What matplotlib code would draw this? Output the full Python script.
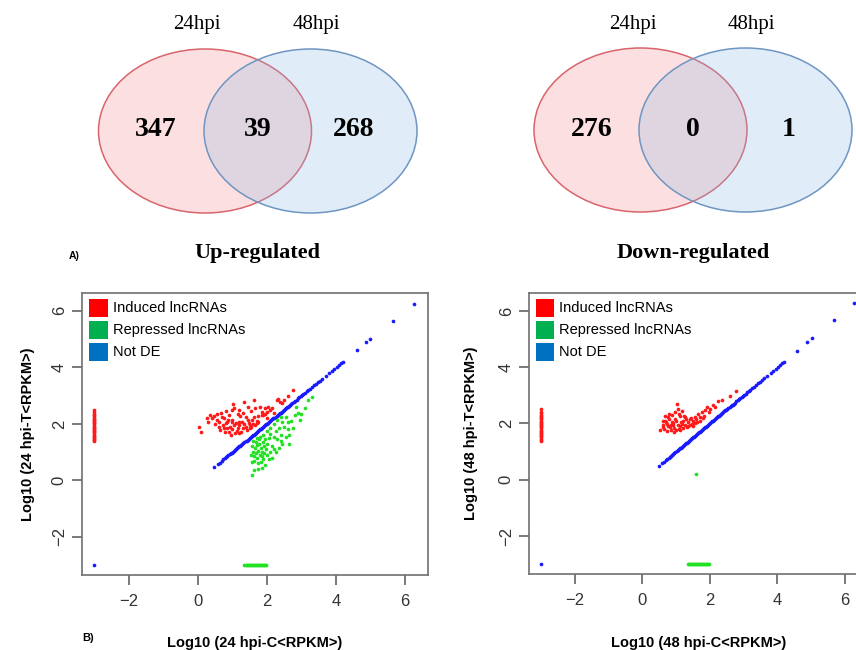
"""Venn counts of up/down-regulated lncRNAs plus T vs C expression scatter (24 / 48 hpi)."""

import matplotlib

matplotlib.use("Agg")
import matplotlib.pyplot as plt
from matplotlib.patches import Ellipse, Rectangle

# ---- Venn counts ----
VENN_SETS = ["24hpi", "48hpi"]
UP_COUNTS = [347, 39, 268]      # only 24, both, only 48
DOWN_COUNTS = [276, 0, 1]

# ---- scatter: 24 hpi ----
RED24_X = [0.03, 0.10, 0.30, 0.35, 0.46, 0.56, 0.60, 0.68, 0.75, 0.80, 0.84, 0.89, 0.99, 1.02,
           1.06, 1.10, 1.16, 1.18, 1.23, 1.27, 1.35, 1.39, 1.45, 1.48, 1.51, 1.56, 1.62, 1.66,
           1.70, 1.75, 1.80, 1.85, 1.90, 1.94, 1.99, 2.04, 2.09, 2.14, 2.28, 2.33, 2.38, 2.60,
           2.76, 0.65, 0.72, 0.78, 0.85, 0.92, 0.95, 1.00, 1.05, 1.12, 1.20, 1.25, 1.30, 1.35,
           1.42, 1.50, 1.55, 1.60, 1.65, 1.70, 1.75, 0.50, 0.40, 0.55, 0.70, 0.90, 1.15, 1.30,
           0.80, 1.00, 1.20, 1.55, 1.85, 1.95, 2.00, 2.20, 2.45, 2.50, 0.25, 0.62, 0.98, 1.08,
           1.38, 1.62, 0.88, 0.75, 1.18, 1.45]
RED24_Y = [1.90, 1.72, 2.08, 2.32, 2.26, 2.14, 1.90, 2.40, 2.19, 2.02, 1.84, 1.72, 2.14, 2.70,
           2.55, 2.02, 1.84, 1.66, 2.26, 2.08, 2.79, 1.90, 2.61, 2.02, 1.84, 2.14, 2.83, 2.55,
           2.02, 2.26, 2.61, 2.43, 2.31, 2.55, 2.43, 2.61, 2.49, 2.55, 2.85, 2.87, 2.79, 2.99,
           3.20, 1.78, 1.95, 1.70, 2.05, 1.88, 1.62, 1.80, 1.95, 1.75, 1.95, 1.70, 1.85, 2.00,
           1.78, 1.95, 1.90, 2.00, 1.95, 2.10, 2.05, 2.00, 2.20, 2.35, 2.25, 2.30, 2.35, 2.40,
           2.45, 2.50, 2.50, 2.45, 2.30, 2.35, 2.20, 2.40, 2.75, 2.85, 2.20, 2.05, 2.05, 1.68,
           2.25, 2.25, 2.15, 1.85, 2.08, 2.15]
GREEN24_X = [1.60, 1.62, 1.65, 1.68, 1.70, 1.72, 1.75, 1.78, 1.80, 1.82, 1.85, 1.88, 1.90, 1.92,
             1.95, 1.58, 1.63, 1.67, 1.73, 1.77, 1.83, 1.87, 1.93, 1.98, 2.00, 1.60, 1.70, 1.80,
             1.55, 1.57, 1.62, 1.58, 1.75, 1.85, 1.95, 2.05, 2.10, 2.15, 2.05, 2.10, 2.20, 2.25,
             2.30, 2.35, 2.40, 2.45, 2.50, 2.55, 2.60, 2.65, 2.70, 2.75, 2.80, 2.90, 2.95, 3.00,
             3.10, 3.20, 3.30, 2.20, 2.30, 2.40, 2.55, 2.65, 2.00, 2.25, 2.15, 1.90, 2.00, 2.10,
             2.20, 2.35, 2.45, 2.60, 2.85, 2.40]
GREEN24_Y = [1.00, 0.85, 1.15, 0.95, 1.25, 0.80, 1.05, 1.30, 0.90, 1.15, 1.00, 1.35, 0.75, 1.20,
             1.45, 1.20, 0.70, 1.35, 0.60, 1.45, 0.65, 0.85, 0.95, 1.10, 1.30, 1.40, 1.50, 1.55,
             0.90, 0.65, 0.35, 0.18, 0.40, 0.45, 0.55, 0.75, 1.00, 1.20, 1.50, 1.65, 1.55, 1.75,
             1.45, 1.85, 1.60, 1.30, 1.90, 1.55, 2.05, 1.60, 2.10, 1.85, 2.30, 2.40, 2.15, 2.35,
             2.55, 2.85, 2.95, 2.00, 2.15, 2.25, 2.25, 1.30, 0.90, 1.00, 0.80, 1.60, 1.75, 1.85,
             1.10, 1.15, 2.05, 1.80, 2.60, 1.40]

# ---- scatter: 48 hpi ----
RED48_X = [0.52, 0.62, 0.67, 0.72, 0.77, 0.82, 0.87, 0.92, 0.97, 1.02, 1.04, 1.07, 1.12, 1.17,
           1.21, 1.26, 1.31, 1.36, 1.41, 1.46, 1.51, 1.56, 1.61, 1.66, 1.71, 1.76, 1.81, 1.86,
           1.91, 1.96, 2.00, 2.08, 2.15, 2.25, 2.35, 2.60, 2.78, 0.60, 0.65, 0.70, 0.75, 0.80,
           0.85, 0.90, 0.95, 1.00, 1.05, 1.10, 1.15, 1.20, 1.25, 1.30, 1.35, 1.40, 1.45, 1.50,
           1.55, 0.68, 0.78, 0.88, 0.98, 1.08, 1.18, 0.72, 0.93, 1.00, 1.12, 1.22, 1.60, 1.70,
           1.80, 0.85, 0.62]
RED48_Y = [1.75, 1.87, 2.10, 1.99, 2.22, 1.87, 2.04, 1.93, 2.16, 2.70, 2.52, 1.81, 2.28, 1.99,
           2.10, 2.22, 1.87, 2.04, 2.16, 1.99, 2.10, 2.22, 2.04, 2.34, 2.22, 2.40, 2.28, 2.46,
           2.58, 2.40, 2.52, 2.64, 2.58, 2.81, 2.84, 2.99, 3.17, 1.95, 1.80, 2.05, 1.90, 2.15,
           1.75, 2.00, 1.85, 2.10, 1.95, 1.75, 2.05, 1.85, 1.95, 2.15, 1.90, 1.95, 2.20, 1.90,
           2.00, 2.25, 2.35, 2.30, 2.40, 2.35, 2.45, 1.72, 1.68, 1.78, 1.90, 2.25, 2.15, 2.10,
           2.20, 1.95, 2.10]
GREEN48_X = [1.58]
GREEN48_Y = [0.19]

# not-DE genes sit on the diagonal (T == C)
NOTDE_CORE = [0.48, 0.58, 0.63, 0.70, 0.74, 0.78, 0.81, 0.85, 0.88, 0.92, 0.95, 0.98, 1.02, 1.05,
              1.08, 1.11, 1.14, 1.17, 1.20, 1.23, 1.26, 1.29, 1.32, 1.35, 1.38, 1.41, 1.44, 1.47,
              1.50, 1.53, 1.56, 1.59, 1.62, 1.65, 1.68, 1.71, 1.74, 1.77, 1.80, 1.83, 1.86, 1.89,
              1.92, 1.95, 1.98, 2.01, 2.04, 2.07, 2.10, 2.13, 2.16, 2.19, 2.22, 2.25, 2.28, 2.31,
              2.34, 2.37, 2.40, 2.43, 2.46, 2.49, 2.52, 2.55, 2.58, 2.61, 2.64, 2.67, 2.70, 2.74,
              2.78, 2.82, 2.86, 2.90, 2.94, 2.98, 3.02, 3.06, 3.10, 3.15, 3.20, 3.25, 3.30, 3.36,
              3.42, 3.47, 3.53, 3.60, 3.70, 3.80, 3.88, 3.95, 4.02, 4.08, 4.15, 4.20]
NOTDE_TAIL_24 = [4.60, 4.88, 5.00, 5.65, 6.25]
NOTDE_TAIL_48 = [4.58, 4.88, 5.02, 5.68, 6.28]

# genes absent in control (log10 floor = -3) and absent in treatment
FLOOR = -3
RED_COL_Y = [1.38, 1.42, 1.46, 1.50, 1.54, 1.58, 1.62, 1.66, 1.70, 1.74, 1.78, 1.82, 1.86, 1.90,
             1.94, 1.98, 2.02, 2.06, 2.10, 2.14, 2.18, 2.22, 2.26, 2.30, 2.36, 2.42, 2.50]
GREEN_ROW_X = [1.35, 1.38, 1.41, 1.44, 1.47, 1.50, 1.53, 1.56, 1.59, 1.62, 1.65, 1.68, 1.71, 1.74,
               1.77, 1.80, 1.83, 1.86, 1.89, 1.92, 1.95, 1.98]

LEGEND = [("Induced lncRNAs", "#ff0000"), ("Repressed lncRNAs", "#00b050"), ("Not DE", "#0070c0")]

RED, GREEN, BLUE = "#ff1a1a", "#22e022", "#1a1aff"
SERIF = "Liberation Serif"
SANS = "Liberation Sans"

fig = plt.figure(figsize=(8.56, 6.5), dpi=100)

# overlay in pixel coordinates for venns and panel letters
ov = fig.add_axes([0, 0, 1, 1])
ov.set_xlim(0, 856)
ov.set_ylim(650, 0)
ov.axis("off")


def venn(cx_left, cx_right, cy, counts, title):
    w, h = 213, 164
    ov.add_patch(Ellipse((cx_left, cy), w, h, facecolor=(247 / 255, 135 / 255, 139 / 255, 0.25),
                         edgecolor="#d9646c", lw=1.1))
    ov.add_patch(Ellipse((cx_right, cy), w, h, facecolor=(135 / 255, 183 / 255, 227 / 255, 0.25),
                         edgecolor="#6f95c2", lw=1.1))
    ov.text(cx_left - 8, 25, VENN_SETS[0], ha="center", va="center", fontsize=15, family=SERIF)
    ov.text(cx_right + 6, 25, VENN_SETS[1], ha="center", va="center", fontsize=15, family=SERIF)
    xs = [cx_left - 49, (cx_left + cx_right) / 2, cx_right + 43]
    for x, n in zip(xs, counts):
        ov.text(x, cy - 1, str(n), ha="center", va="center", fontsize=20, family=SERIF,
                weight="bold")
    ov.text((cx_left + cx_right) / 2, 253, title, ha="center", va="center", fontsize=16,
            family=SERIF, weight="bold")


venn(205, 310.5, 131, UP_COUNTS, "Up-regulated")
venn(640.5, 745.5, 130, DOWN_COUNTS, "Down-regulated")
ov.text(69, 256, "A)", ha="left", va="center", fontsize=7.5, family=SANS, weight="bold")
ov.text(82, 638, "B)", ha="left", va="center", fontsize=8, family=SANS, weight="bold")


def scatter_panel(rect, red_x, red_y, green_x, green_y, tail, ylab, xlab, ypad, xpad):
    ax = fig.add_axes(rect)
    ax.set_facecolor("none")
    kw = dict(s=7, linewidths=0, zorder=3)
    notde = NOTDE_CORE + tail
    ax.scatter(notde, notde, color=BLUE, **kw)
    ax.scatter(red_x, red_y, color=RED, **kw)
    ax.scatter(green_x, green_y, color=GREEN, **kw)
    ax.scatter([FLOOR] * len(RED_COL_Y), RED_COL_Y, color=RED, **kw)
    ax.scatter(GREEN_ROW_X, [FLOOR] * len(GREEN_ROW_X), color=GREEN, **kw)
    ax.scatter([FLOOR], [FLOOR], color=BLUE, **kw)
    ax.set_xlim(-3.36, 6.67)
    ax.set_ylim(-3.35, 6.63)
    ax.set_xticks([-2, 0, 2, 4, 6])
    ax.set_yticks([-2, 0, 2, 4, 6])
    for sp in ax.spines.values():
        sp.set_color("#707070")
        sp.set_linewidth(1.2)
    ax.tick_params(direction="out", length=7, width=1.1, color="#555555", labelsize=12,
                   labelcolor="#333333")
    ax.tick_params(axis="x", pad=7)
    ax.tick_params(axis="y", pad=4, labelrotation=90)
    for t in ax.get_yticklabels():
        t.set_va("center")
        t.set_family(SANS)
    for t in ax.get_xticklabels():
        t.set_family(SANS)
    ax.set_ylabel(ylab, fontsize=10.5, weight="bold", family=SANS, labelpad=ypad)
    ax.set_xlabel(xlab, fontsize=10.5, weight="bold", family=SANS, labelpad=xpad)
    # filled colour-square legend
    for i, (lab, col) in enumerate(LEGEND):
        y0 = 6.10 - i * 0.78
        ax.add_patch(Rectangle((-3.16, y0 - 0.32), 0.55, 0.64, facecolor=col, edgecolor="none",
                               zorder=4))
        ax.text(-2.46, y0, lab, ha="left", va="center", fontsize=10.5, family=SANS, zorder=4)
    return ax


scatter_panel([0.0958, 0.1154, 0.4042, 0.4338], RED24_X, RED24_Y, GREEN24_X, GREEN24_Y,
              NOTDE_TAIL_24, "Log10 (24 hpi-T<RPKM>)", "Log10 (24 hpi-C<RPKM>)", 12, 19)
scatter_panel([0.618, 0.117, 0.3955, 0.432], RED48_X, RED48_Y, GREEN48_X, GREEN48_Y,
              NOTDE_TAIL_48, "Log10 (48 hpi-T<RPKM>)", "Log10 (48 hpi-C<RPKM>)", 15, 20)

fig.savefig("out.png", dpi=100)
